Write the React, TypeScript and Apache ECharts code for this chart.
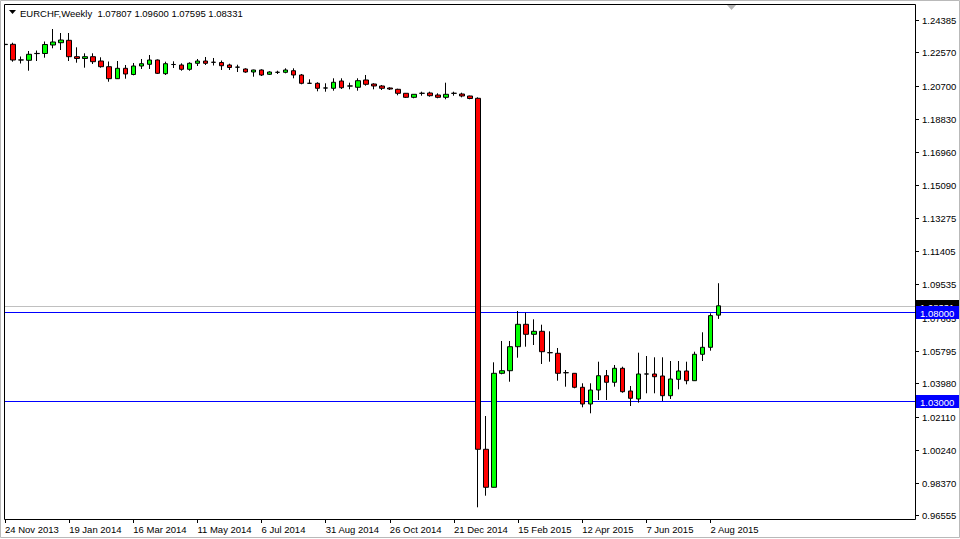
import React, { useEffect, useRef } from "react";
import * as echarts from "echarts";

const symbolTitle = "EURCHF,Weekly  1.07807 1.09600 1.07595 1.08331";

const dateTickLabels = [
  "24 Nov 2013", "19 Jan 2014", "16 Mar 2014", "11 May 2014", "6 Jul 2014", "31 Aug 2014",
  "26 Oct 2014", "21 Dec 2014", "15 Feb 2015", "12 Apr 2015", "7 Jun 2015", "2 Aug 2015",
];
const weeksPerTick = 8;
const slotCount = 114;

const priceTicks = [
  1.24385, 1.2257, 1.207, 1.1883, 1.1696, 1.1509, 1.13275, 1.11405, 1.09535, 1.07665,
  1.05795, 1.0398, 1.0211, 1.0024, 0.9837, 0.96555,
];

const opens = [
  1.23006, 1.23022, 1.22145, 1.22124, 1.225, 1.22506, 1.22983, 1.23112, 1.23247, 1.22326,
  1.22225, 1.22326, 1.22084, 1.21764, 1.2109, 1.21674, 1.21326, 1.21803, 1.21899, 1.2214,
  1.21371, 1.21885, 1.2186, 1.21618, 1.21955, 1.22084, 1.22015, 1.22, 1.2186, 1.2174,
  1.21635, 1.21466, 1.21579, 1.21337, 1.21452, 1.21449, 1.21539, 1.21298, 1.20832, 1.20831,
  1.2057, 1.20551, 1.20961, 1.20682, 1.20607, 1.21017, 1.20792, 1.2068, 1.20567, 1.20494,
  1.2027, 1.20045, 1.20272, 1.20287, 1.20174, 1.20045, 1.20268, 1.2023, 1.20118, 1.19989,
  1.0027, 0.98135, 1.04539, 1.04685, 1.06034, 1.07292, 1.0673, 1.06899, 1.057, 1.05663,
  1.04575, 1.04539, 1.03753, 1.02815, 1.03601, 1.04404, 1.04034, 1.0482, 1.03545, 1.03096,
  1.04502, 1.045, 1.04388, 1.03281, 1.04202, 1.04669, 1.04124, 1.05607, 1.06, 1.07807,
];
const highs = [
  1.23152, 1.23112, 1.22337, 1.22646, 1.22674, 1.2318, 1.23882, 1.23657, 1.23657, 1.22854,
  1.22517, 1.22517, 1.22292, 1.22056, 1.22084, 1.2186, 1.21972, 1.22197, 1.22421, 1.22169,
  1.22045, 1.22067, 1.21955, 1.22011, 1.22197, 1.22309, 1.22253, 1.22112, 1.21933, 1.21876,
  1.21674, 1.21596, 1.21618, 1.21506, 1.21539, 1.21674, 1.21674, 1.21354, 1.21056, 1.20888,
  1.20831, 1.21112, 1.21112, 1.20865, 1.21112, 1.21298, 1.20831, 1.20736, 1.20607, 1.20528,
  1.20287, 1.20213, 1.2036, 1.2036, 1.2027, 1.20865, 1.2036, 1.20303, 1.20135, 1.20045,
  1.0214, 1.05157, 1.06354, 1.06354, 1.08039, 1.07944, 1.07573, 1.0727, 1.06899, 1.05961,
  1.04725, 1.04556, 1.03978, 1.03978, 1.05191, 1.04725, 1.05006, 1.0491, 1.03826, 1.05697,
  1.05511, 1.05438, 1.05438, 1.0523, 1.0523, 1.05191, 1.05753, 1.06843, 1.0791, 1.096,
];
const lows = [
  1.22871, 1.22045, 1.21944, 1.21539, 1.22084, 1.2227, 1.22798, 1.22702, 1.22084, 1.21989,
  1.21708, 1.21916, 1.21708, 1.20921, 1.21073, 1.2109, 1.21281, 1.21635, 1.21635, 1.21354,
  1.21298, 1.21691, 1.21539, 1.21539, 1.21803, 1.2186, 1.21831, 1.21579, 1.21579, 1.21466,
  1.21421, 1.21202, 1.21242, 1.21298, 1.21354, 1.21393, 1.21112, 1.20775, 1.20815, 1.20382,
  1.2036, 1.20416, 1.20511, 1.20494, 1.20416, 1.20697, 1.20494, 1.20455, 1.20455, 1.20157,
  1.20006, 1.19989, 1.20135, 1.20079, 1.19989, 1.19933, 1.20135, 1.20045, 1.19933, 0.97011,
  0.97663, 0.98124, 1.04483, 1.04067, 1.05416, 1.06034, 1.06129, 1.05062, 1.05191, 1.04124,
  1.03787, 1.03697, 1.02629, 1.02292, 1.03039, 1.03039, 1.03787, 1.03449, 1.02702, 1.02888,
  1.03416, 1.03416, 1.02983, 1.03096, 1.0364, 1.03921, 1.04107, 1.0523, 1.05809, 1.07595,
];
const closes = [
  1.23022, 1.2214, 1.2214, 1.22461, 1.2251, 1.23011, 1.23152, 1.23264, 1.22326, 1.22225,
  1.22326, 1.22045, 1.21764, 1.2109, 1.21674, 1.21354, 1.21803, 1.21933, 1.2214, 1.21393,
  1.21933, 1.2189, 1.21618, 1.21955, 1.22084, 1.21955, 1.2201, 1.2182, 1.21719, 1.21735,
  1.21466, 1.21579, 1.21298, 1.21466, 1.21447, 1.21579, 1.21298, 1.20831, 1.2083, 1.20551,
  1.20565, 1.20888, 1.20584, 1.20678, 1.20978, 1.20775, 1.2068, 1.20551, 1.20511, 1.2027,
  1.20045, 1.20213, 1.20268, 1.20135, 1.20045, 1.20213, 1.20272, 1.20118, 1.19978, 1.0027,
  0.98135, 1.04539, 1.04685, 1.06034, 1.07292, 1.0673, 1.06899, 1.05753, 1.05694, 1.04539,
  1.04571, 1.03753, 1.02815, 1.03601, 1.04404, 1.04034, 1.0482, 1.03506, 1.03135, 1.045,
  1.04498, 1.04348, 1.03281, 1.04219, 1.04669, 1.04124, 1.05607, 1.06, 1.0778, 1.08331,
];

// horizontal levels: bid line first, then the two drawn support/resistance lines
const levelValues = [1.08331, 1.08, 1.03];
const levelLineColors = ["#C0C0C0", "#0000FF", "#0000FF"];
const levelBoxColors = ["#000000", "#0000FF", "#0000FF"];

const FONT = "'Liberation Sans', Arial, sans-serif";
const FONT_SIZE = 9.5;

export default function App() {
  const ref = useRef<HTMLDivElement>(null);

  useEffect(() => {
    document.body.style.margin = "0";
    const chart = echarts.init(ref.current!, null, { renderer: "svg" });

    const categories = Array.from({ length: slotCount }, (_, i) => String(i));
    const candleData = opens.map((o, i) => [o, closes[i], lows[i], highs[i]]);
    const isTick = (idx: number) => idx % weeksPerTick === 0 && idx / weeksPerTick < dateTickLabels.length;

    chart.setOption({
      animation: false,
      backgroundColor: "#fff",
      grid: { left: 1, top: 4, width: 914, height: 515, containLabel: false },
      xAxis: {
        type: "category",
        data: categories,
        boundaryGap: true,
        axisLine: { show: false },
        axisTick: {
          show: true,
          alignWithLabel: true,
          interval: (idx: number) => isTick(idx),
          length: 4,
          lineStyle: { color: "#000" },
        },
        axisLabel: {
          interval: (idx: number) => isTick(idx),
          formatter: (_v: string, idx: number) => (isTick(idx) ? dateTickLabels[idx / weeksPerTick] : ""),
          align: "left",
          margin: 5,
          color: "#000",
          fontFamily: FONT,
          fontSize: FONT_SIZE,
        },
        splitLine: { show: false },
      },
      yAxis: {
        type: "value",
        position: "right",
        min: 0.963539,
        max: 1.252865,
        scale: true,
        axisLine: { show: false },
        axisTick: { show: false },
        axisLabel: { show: false },
        splitLine: { show: false },
      },
      series: [
        {
          type: "custom",
          name: "price-scale",
          coordinateSystem: "cartesian2d",
          clip: false,
          silent: true,
          z: 1,
          data: priceTicks.map((v) => [0, v]),
          renderItem: (params: any, api: any) => {
            const v = api.value(1);
            const y = Math.round(api.coord([0, v])[1]) + 0.5;
            const right = params.coordSys.x + params.coordSys.width;
            return {
              type: "group",
              children: [
                { type: "line", shape: { x1: right, y1: y, x2: right + 4, y2: y }, style: { stroke: "#000", lineWidth: 1 } },
                {
                  type: "text",
                  x: right + 7,
                  y: y,
                  style: { text: v.toFixed(5), fill: "#000", fontFamily: FONT, fontSize: FONT_SIZE, verticalAlign: "middle", align: "left" },
                },
              ],
            };
          },
        },
        {
          type: "custom",
          name: "levels",
          coordinateSystem: "cartesian2d",
          clip: false,
          silent: true,
          z: 2,
          data: levelValues.map((v) => [0, v]),
          renderItem: (params: any, api: any) => {
            const i = params.dataIndex;
            const v = api.value(1);
            const y = Math.round(api.coord([0, v])[1]) + 0.5;
            const cs = params.coordSys;
            const right = cs.x + cs.width;
            return {
              type: "group",
              children: [
                { type: "line", shape: { x1: 4, y1: y, x2: right, y2: y }, style: { stroke: levelLineColors[i], lineWidth: 1 } },
                { type: "rect", shape: { x: right + 1, y: y - 6.5, width: 43, height: 13 }, style: { fill: levelBoxColors[i] } },
                {
                  type: "text",
                  x: right + 5,
                  y: y + 0.5,
                  style: { text: v.toFixed(5), fill: "#fff", fontFamily: FONT, fontSize: FONT_SIZE, verticalAlign: "middle", align: "left" },
                },
              ],
            };
          },
        },
        {
          type: "candlestick",
          name: "EURCHF",
          data: candleData,
          barWidth: 5,
          z: 3,
          itemStyle: {
            color: "#00FF00",
            color0: "#FF0000",
            borderColor: "#000",
            borderColor0: "#000",
            borderColorDoji: "#000",
            borderWidth: 1,
          },
        },
      ],
      graphic: [
        { type: "rect", z: 90, shape: { x: 0, y: 4, width: 4, height: 515 }, style: { fill: "#fff" } },
        { type: "rect", z: 100, shape: { x: 4.5, y: 4.5, width: 911, height: 515 }, style: { fill: "none", stroke: "#000", lineWidth: 1 } },
        { type: "rect", z: 100, shape: { x: 0.5, y: 0.5, width: 959, height: 537 }, style: { fill: "none", stroke: "#B9B9B9", lineWidth: 1 } },
        { type: "polygon", z: 100, shape: { points: [[9, 10], [16, 10], [12.5, 14]] }, style: { fill: "#000" } },
        { type: "polygon", z: 100, shape: { points: [[727, 5], [736, 5], [731.5, 10]] }, style: { fill: "#B4B4B4" } },
        {
          type: "text",
          z: 100,
          x: 20,
          y: 13,
          style: { text: symbolTitle, fill: "#000", fontFamily: FONT, fontSize: FONT_SIZE, verticalAlign: "middle" },
        },
      ],
    });

    return () => chart.dispose();
  }, []);

  return <div ref={ref} style={{ width: 960, height: 539 }} />;
}
